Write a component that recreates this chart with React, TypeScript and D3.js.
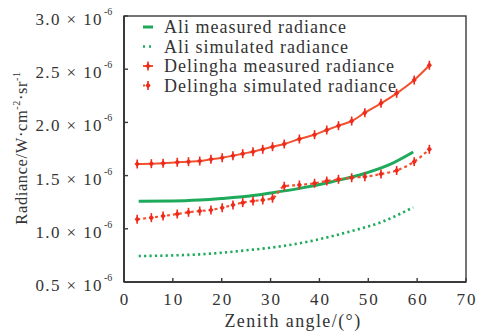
import React from "react";
import * as d3 from "d3";

const W = 481, H = 333;
const M = { left: 124, right: 466, top: 16, bottom: 282 };

const xTicks = [0, 10, 20, 30, 40, 50, 60, 70];
const yTicks = [0.5, 1.0, 1.5, 2.0, 2.5, 3.0];

const delX = [2.7, 5.6, 8.0, 10.9, 13.2, 15.5, 17.8, 20.1, 22.3, 24.3, 26.4, 28.4, 30.4, 32.8, 35.9, 39.0, 41.5, 43.9, 46.6, 49.3, 52.6, 55.8, 59.4, 62.5];
const delMeas = [1.61, 1.612, 1.616, 1.625, 1.631, 1.637, 1.653, 1.668, 1.687, 1.706, 1.725, 1.747, 1.772, 1.797, 1.844, 1.885, 1.929, 1.969, 2.013, 2.091, 2.179, 2.273, 2.398, 2.537];
const delSim = [1.089, 1.105, 1.12, 1.139, 1.155, 1.167, 1.177, 1.198, 1.224, 1.246, 1.261, 1.271, 1.287, 1.4, 1.412, 1.428, 1.449, 1.465, 1.48, 1.49, 1.515, 1.548, 1.631, 1.747];

const aliMeasX = [3, 10, 15.5, 20, 25.7, 30.4, 35.9, 42.6, 49.4, 54.2, 59.2];
const aliMeas = [1.26, 1.262, 1.271, 1.285, 1.308, 1.339, 1.38, 1.443, 1.522, 1.6, 1.722];
const aliSimX = [3, 10, 15.5, 25.7, 32.5, 39.3, 46.1, 52.9, 59.2];
const aliSim = [0.744, 0.75, 0.76, 0.801, 0.838, 0.895, 0.973, 1.067, 1.202];

const legendLabels = ["Ali measured radiance", "Ali simulated radiance", "Delingha measured radiance", "Delingha simulated radiance"];

const GREEN = "#1daa5a";
const RED = "#ee2a1c";
const RED_LINE = "#f2512e";
const AXIS = "#3a3a3a";
const FONT = "'Liberation Serif', 'DejaVu Serif', 'Times New Roman', serif";

function Marker({ x, y }: { x: number; y: number }) {
  return (
    <g>
      <line x1={x} x2={x} y1={y - 4.5} y2={y + 4.5} stroke={RED} strokeWidth={1.6} />
      <path d={`M${x - 2.6},${y} L${x},${y - 3} L${x + 2.6},${y} L${x},${y + 3} Z`} fill={RED} />
    </g>
  );
}

export default function App() {
  const x = d3.scaleLinear().domain([0, 70]).range([M.left, M.right]);
  const y = d3.scaleLinear().domain([0.5, 3.0]).range([M.bottom, M.top]);
  const line = d3.line<[number, number]>().x(d => x(d[0])).y(d => y(d[1])).curve(d3.curveMonotoneX);

  const dm = delX.map((v, i) => [v, delMeas[i]] as [number, number]);
  const ds = delX.map((v, i) => [v, delSim[i]] as [number, number]);
  const am = aliMeasX.map((v, i) => [v, aliMeas[i]] as [number, number]);
  const as = aliSimX.map((v, i) => [v, aliSim[i]] as [number, number]);

  const legY = [27, 46.5, 66, 85.5];
  const legX = 148;
  const ts = { fontFamily: FONT };

  return (
    <svg width={W} height={H} style={{ position: "absolute", left: 0, top: 0, background: "#fff", fontFamily: FONT }}>
      <rect x={M.left} y={M.top} width={M.right - M.left} height={M.bottom - M.top} fill="none" stroke={AXIS} strokeWidth={1.4} />
      <line x1={M.left} x2={M.left} y1={M.top} y2={M.bottom} stroke={AXIS} strokeWidth={2} />
      <line x1={M.left} x2={M.right} y1={M.bottom} y2={M.bottom} stroke={AXIS} strokeWidth={2} />
      {xTicks.map(t => (
        <g key={"x" + t}>
          <line x1={x(t)} x2={x(t)} y1={M.bottom} y2={M.bottom - 4} stroke={AXIS} strokeWidth={1.4} />
          <text style={ts} x={x(t) + 1} y={305} fontSize={17} textAnchor="middle" letterSpacing={2} fill="#333">{t}</text>
        </g>
      ))}
      {yTicks.map(t => (
        <g key={"y" + t}>
          <line x1={M.left} x2={M.left + 4} y1={y(t)} y2={y(t)} stroke={AXIS} strokeWidth={1.4} />
          <text style={ts} x={103} y={y(t) + 9} fontSize={17} textAnchor="end" fill="#333" letterSpacing={1.4}>
            {t.toFixed(1)} × 10
          </text>
          <text style={ts} x={104} y={y(t) - 1} fontSize={10} textAnchor="start" fill="#333">-6</text>
        </g>
      ))}
      <text style={ts} x={293} y={327} fontSize={18} textAnchor="middle" fill="#333" letterSpacing={1.4}>Zenith angle/(°)</text>
      <text style={ts} transform={`translate(27,${148}) rotate(-90)`} fontSize={16.5} textAnchor="middle" fill="#333" letterSpacing={0.6}>
        Radiance/W·cm<tspan dy={-7} fontSize={10}>-2</tspan><tspan dy={7}>·sr</tspan><tspan dy={-7} fontSize={10}>-1</tspan>
      </text>

      <path d={line(as) || ""} fill="none" stroke={GREEN} strokeWidth={2.6} strokeDasharray="2.2 3.2" />
      <path d={line(am) || ""} fill="none" stroke={GREEN} strokeWidth={3} />
      <path d={line(dm) || ""} fill="none" stroke={RED_LINE} strokeWidth={2} />
      <path d={line(ds) || ""} fill="none" stroke={RED_LINE} strokeWidth={2.2} strokeDasharray="3 3" />
      {dm.map((d, i) => <Marker key={"m" + i} x={x(d[0])} y={y(d[1])} />)}
      {ds.map((d, i) => <Marker key={"s" + i} x={x(d[0])} y={y(d[1])} />)}

      <line x1={legX - 5} x2={legX + 5} y1={legY[0]} y2={legY[0]} stroke={GREEN} strokeWidth={3} />
      <line x1={legX - 5} x2={legX + 5} y1={legY[1]} y2={legY[1]} stroke={GREEN} strokeWidth={2.4} strokeDasharray="2 4" />
      <line x1={legX - 5} x2={legX + 5} y1={legY[2]} y2={legY[2]} stroke={RED_LINE} strokeWidth={2} />
      <Marker x={legX} y={legY[2]} />
      <line x1={legX - 5} x2={legX + 5} y1={legY[3]} y2={legY[3]} stroke={RED_LINE} strokeWidth={2} strokeDasharray="2 3" />
      <Marker x={legX} y={legY[3]} />
      {legendLabels.map((l, i) => (
        <text style={ts} key={l} x={164} y={legY[i] + 6} fontSize={18} fill="#333" letterSpacing={1}>{l}</text>
      ))}
    </svg>
  );
}
